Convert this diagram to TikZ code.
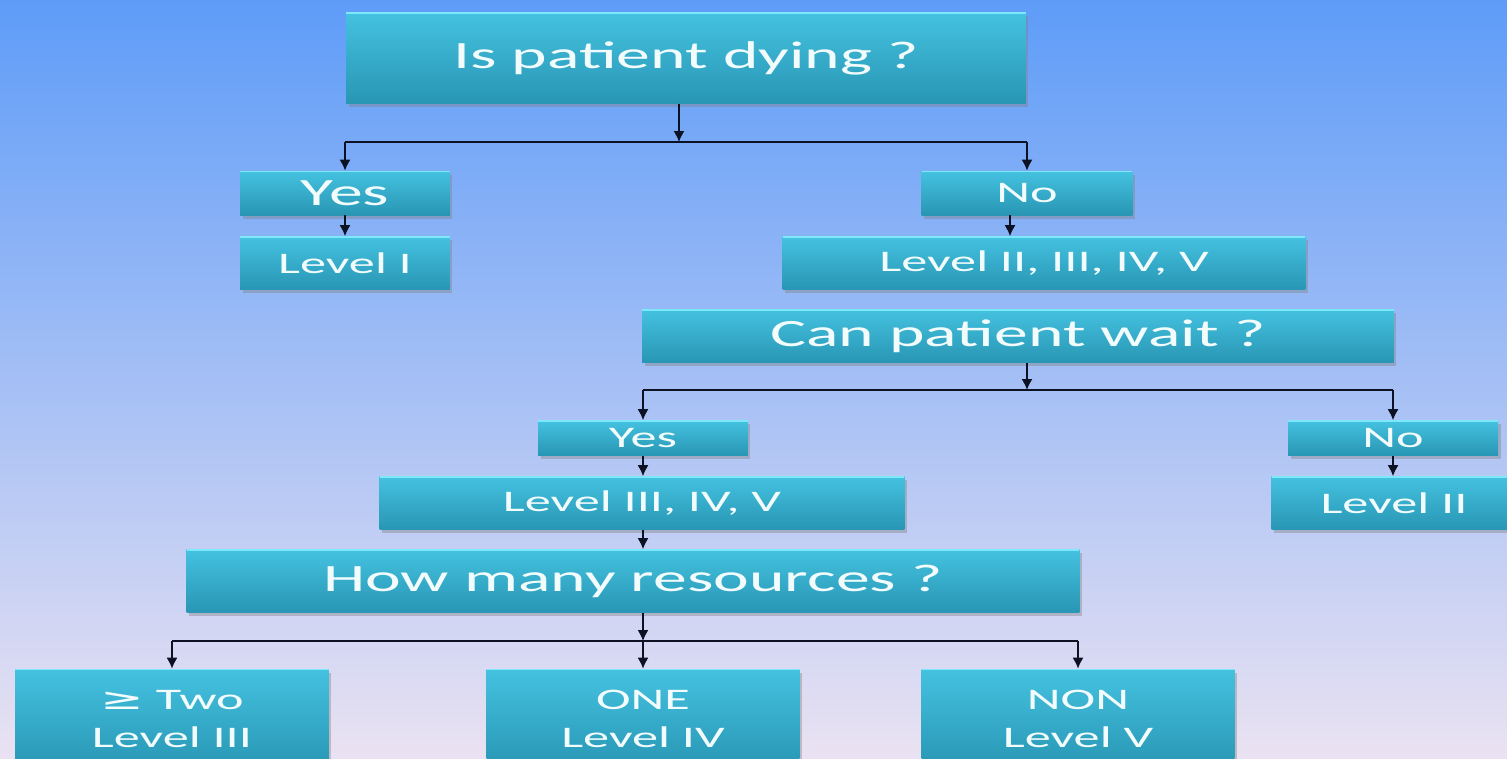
\documentclass[tikz,border=0pt]{standalone}
\usepackage{fontspec}
\setmainfont[FakeStretch=1.75]{Carlito}
\newfontfamily\symfont[FakeStretch=1.75]{DejaVu Sans}
\usetikzlibrary{shadows, arrows.meta}

\definecolor{bgtop}{RGB}{94,156,248}
\definecolor{bgmid}{RGB}{162,198,242}
\definecolor{bgbot}{RGB}{234,226,242}
\definecolor{boxtop}{RGB}{68,194,224}
\definecolor{boxbot}{RGB}{40,150,180}
\definecolor{boxedge}{RGB}{125,232,250}
\definecolor{boxtext}{RGB}{242,252,252}
\definecolor{linkcol}{RGB}{12,18,36}

\begin{document}
\begin{tikzpicture}[x=0.02cm, y=-0.02cm,
    box/.style={top color=boxtop, bottom color=boxbot, text=boxtext,
        inner sep=0pt, align=center,
        drop shadow={shadow xshift=0.5mm, shadow yshift=-0.7mm, opacity=0.4},
        path picture={\draw[boxedge, line width=1.5pt]
            (path picture bounding box.north west) -- (path picture bounding box.north east);}},
    big/.style={font=\fontsize{22}{26}\selectfont},
    small/.style={font=\fontsize{17}{21.5}\selectfont},
    line/.style={line width=0.9pt, draw=linkcol},
    link/.style={line, -{Latex[length=2.2mm, width=2.2mm]}}]

    \useasboundingbox (0,0) rectangle (1507,758);
    \shade[top color=bgtop, middle color=bgmid, bottom color=bgbot] (0,0) rectangle (1507,758);

    \node[box, big, minimum width=13.6cm, minimum height=1.82cm] (dying) at (686,58) {Is patient dying ?};
    \node[box, big, minimum width=4.2cm, minimum height=0.88cm] (yes1) at (345,193) {Yes};
    \node[box, small, minimum width=4.2cm, minimum height=1.06cm] (lvl1) at (345,263) {Level I};
    \node[box, small, minimum width=4.22cm, minimum height=0.88cm] (no1) at (1027,193) {No};
    \node[box, small, minimum width=10.46cm, minimum height=1.06cm] (lvl2to5) at (1044,263) {Level II, III, IV, V};
    \node[box, big, minimum width=15.04cm, minimum height=1.06cm] (wait) at (1018,336) {Can patient wait ?};
    \node[box, small, minimum width=4.2cm, minimum height=0.7cm] (yes2) at (643,438) {Yes};
    \node[box, small, minimum width=10.5cm, minimum height=1.06cm] (lvl3to5) at (642,503) {Level III, IV, V};
    \node[box, small, minimum width=4.2cm, minimum height=0.7cm] (no2) at (1393,438) {No};
    \node[box, small, minimum width=4.9cm, minimum height=1.06cm] (lvl2) at (1394,503) {Level II};
    \node[box, big, minimum width=17.86cm, minimum height=1.26cm] (res) at (633,581) {How many resources ?};
    \node[box, small, minimum width=6.28cm, minimum height=2cm] (two) at (172,719) {{\symfont ≥} Two\\Level III};
    \node[box, small, minimum width=6.26cm, minimum height=2cm] (one) at (643,719) {ONE\\Level IV};
    \node[box, small, minimum width=6.26cm, minimum height=2cm] (non) at (1078,719) {NON\\Level V};

    \coordinate (split1) at (679,142);
    \coordinate (split2) at (1027,390);
    \coordinate (split3) at (643,641);

    % first question
    \draw[link] (dying.south -| split1) -- (split1);
    \draw[line] (yes1 |- split1) -- (no1 |- split1);
    \draw[link] (yes1 |- split1) -- (yes1.north);
    \draw[link] (no1 |- split1) -- (no1.north);
    \draw[link] (yes1.south) -- (lvl1.north);
    \draw[link] ([xshift=-0.34cm]no1.south) -- ([xshift=-0.34cm]no1.south |- lvl2to5.north);

    % second question
    \draw[link] (wait.south -| split2) -- (split2);
    \draw[line] (yes2 |- split2) -- (no2 |- split2);
    \draw[link] (yes2 |- split2) -- (yes2.north);
    \draw[link] (no2 |- split2) -- (no2.north);
    \draw[link] (yes2.south) -- (lvl3to5.north -| yes2);
    \draw[link] (no2.south) -- (lvl2.north -| no2);

    % resources
    \draw[link] (lvl3to5.south -| split3) -- (res.north -| split3);
    \draw[link] (res.south -| split3) -- (split3);
    \draw[line] (two |- split3) -- (non |- split3);
    \draw[link] (two |- split3) -- (two.north);
    \draw[link] (one |- split3) -- (one.north);
    \draw[link] (non |- split3) -- (non.north);
\end{tikzpicture}
\end{document}
